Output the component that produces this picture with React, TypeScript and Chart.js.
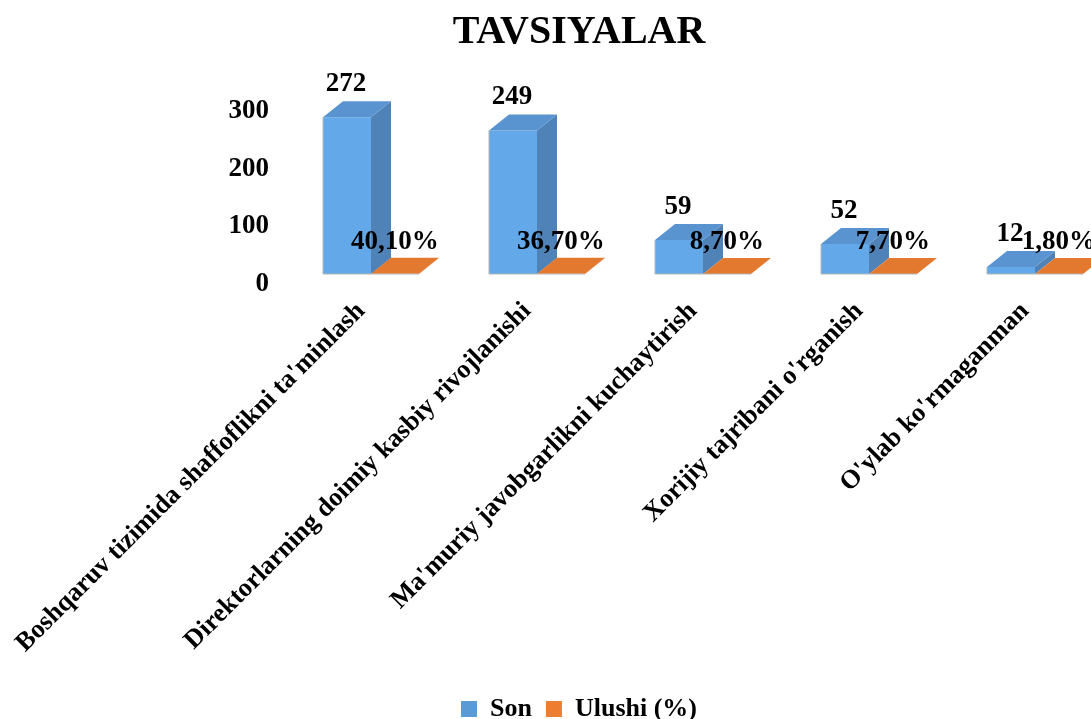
import React, { useEffect, useRef } from "react";
import { Chart, registerables } from "chart.js";

Chart.register(...registerables);

const categories = [
  "Boshqaruv tizimida shaffoflikni ta'minlash",
  "Direktorlarning doimiy kasbiy rivojlanishi",
  "Ma'muriy javobgarlikni kuchaytirish",
  "Xorijiy tajribani o'rganish",
  "O'ylab ko'rmaganman",
];
const sonValues = [272, 249, 59, 52, 12];
const ulushiValues = [0.401, 0.367, 0.087, 0.077, 0.018];
const ulushiLabels = ["40,10%", "36,70%", "8,70%", "7,70%", "1,80%"];
const yTicks = [0, 100, 200, 300];

const FONT = '"Liberation Serif"';
const DEPTH_X = 20;
const DEPTH_Y = 16;
const faces = [
  { front: "#63a9ea", top: "#5a94d0", side: "#4f82b6", legend: "#5b9bd5" },
  { front: "#ed7d31", top: "#e3792f", side: "#c96a2a", legend: "#ed7d31" },
];

const bar3d = {
  id: "bar3d",
  afterDatasetsDraw(chart: any) {
    const { ctx } = chart;
    ctx.save();
    [0, 1].forEach((di) => {
      const c = faces[di];
      chart.getDatasetMeta(di).data.forEach((bar: any) => {
        const l = bar.x - bar.width / 2;
        const r = bar.x + bar.width / 2;
        const t = bar.y;
        const b = bar.base;
        ctx.fillStyle = c.side;
        ctx.beginPath();
        ctx.moveTo(r, t);
        ctx.lineTo(r + DEPTH_X, t - DEPTH_Y);
        ctx.lineTo(r + DEPTH_X, b - DEPTH_Y);
        ctx.lineTo(r, b);
        ctx.closePath();
        ctx.fill();
        ctx.fillStyle = c.top;
        ctx.beginPath();
        ctx.moveTo(l, t);
        ctx.lineTo(l + DEPTH_X, t - DEPTH_Y);
        ctx.lineTo(r + DEPTH_X, t - DEPTH_Y);
        ctx.lineTo(r, t);
        ctx.closePath();
        ctx.fill();
        ctx.strokeStyle = "#b5b5b5";
        ctx.lineWidth = 1;
        ctx.beginPath();
        if (di === 0) {
          ctx.moveTo(l, t);
          ctx.lineTo(l, b);
        } else {
          ctx.moveTo(l, b);
        }
        ctx.lineTo(r, b);
        ctx.stroke();
      });
    });
    ctx.fillStyle = "#000";
    ctx.textAlign = "center";
    ctx.textBaseline = "middle";
    ctx.font = `bold 27px ${FONT}`;
    chart.getDatasetMeta(0).data.forEach((bar: any, i: number) => {
      ctx.fillText(String(sonValues[i]), bar.x - 1, bar.y - 33);
    });
    chart.getDatasetMeta(1).data.forEach((bar: any, i: number) => {
      ctx.fillText(ulushiLabels[i], bar.x, bar.base - 32);
    });
    ctx.restore();
  },
};

export default function App() {
  const ref = useRef<HTMLCanvasElement>(null);
  useEffect(() => {
    document.body.style.margin = "0";
    document.body.style.overflow = "hidden";
    const chart = new Chart(ref.current!, {
      type: "bar",
      data: {
        labels: categories,
        datasets: [
          { label: "Son", data: sonValues, backgroundColor: faces[0].front, categoryPercentage: 0.578, barPercentage: 1 },
          { label: "Ulushi (%)", data: ulushiValues, backgroundColor: faces[1].front, categoryPercentage: 0.578, barPercentage: 1 },
        ],
      },
      options: {
        responsive: false,
        animation: false,
        layout: { padding: { bottom: -13 } },
        plugins: {
          tooltip: { enabled: false },
          title: {
            display: true,
            text: "TAVSIYALAR",
            color: "#000",
            font: { family: FONT, size: 40, weight: "bold" },
            padding: { top: 9, bottom: 44 },
          },
          legend: {
            position: "bottom",
            onClick: undefined,
            labels: {
              color: "#000",
              font: { family: FONT, size: 26, weight: "bold" },
              boxWidth: 16,
              boxHeight: 16,
              padding: 14,
              generateLabels: () =>
                ["Son", "Ulushi (%)"].map((t, i) => ({
                  text: t,
                  fillStyle: faces[i].legend,
                  strokeStyle: faces[i].legend,
                  lineWidth: 0,
                  datasetIndex: i,
                })),
            },
          },
        },
        scales: {
          x: {
            offset: true,
            grid: { display: false, drawTicks: false },
            border: { display: false },
            ticks: {
              autoSkip: false,
              maxRotation: 45,
              minRotation: 45,
              padding: 22,
              labelOffset: -10,
              color: "#000",
              font: { family: FONT, size: 26.3, weight: "bold" },
            },
            afterFit: (s: any) => {
              s.height = 408;
              s.paddingLeft = 0;
              s.paddingRight = 0;
            },
          },
          y: {
            min: 0,
            max: 300,
            afterBuildTicks: (s: any) => {
              s.ticks = yTicks.map((value) => ({ value }));
            },
            grid: { display: false, drawTicks: false },
            border: { display: false },
            afterFit: (s: any) => {
              s.width = 288;
            },
            ticks: {
              padding: 19,
              labelOffset: 10,
              color: "#000",
              font: { family: FONT, size: 27, weight: "bold" },
            },
          },
          spacer: {
            position: "right",
            display: true,
            grid: { display: false, drawTicks: false },
            border: { display: false },
            ticks: { display: false },
            afterFit: (s: any) => {
              s.width = 40;
            },
          },
        },
      },
      plugins: [bar3d],
    } as any);
    return () => chart.destroy();
  }, []);
  return (
    <div style={{ width: 1091, height: 719, overflow: "hidden" }}>
      <canvas ref={ref} width={1158} height={719} style={{ display: "block" }} />
    </div>
  );
}
